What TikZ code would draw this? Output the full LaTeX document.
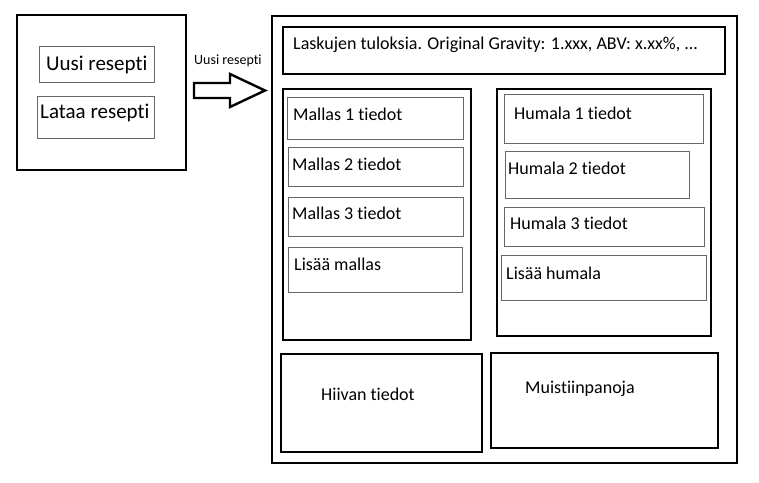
\documentclass[tikz,border=0pt]{standalone}
\usepackage{fontspec}
\setmainfont{Carlito}[Ligatures=NoCommon, RawFeature=-liga]
\begin{document}
\begin{tikzpicture}[x=1pt, y=-1pt,
    outer/.style={draw=black, line width=2.6},
    group/.style={draw=black, line width=1.6},
    item/.style={draw=black!60, line width=1},
    txt/.style={anchor=west, inner sep=0, font=\fontsize{18}{21}\selectfont}]
    \useasboundingbox (0,0) rectangle (759,482);

    % start window
    \draw[outer] (17,15) rectangle (186,170);
    \draw[item] (39,46) rectangle (154,82);
    \draw[item] (37,96) rectangle (154,138);
    \node[txt, font=\fontsize{21}{24}\selectfont] (uusi) at (46,65) {Uusi resepti};
    \node[txt, font=\fontsize{21}{24}\selectfont] (lataa) at (40,113) {Lataa resepti};

    % arrow
    \draw[line width=2.4] (194,83) -- (230,83) -- (230,74) -- (265,90.5)
        -- (230,107) -- (230,98) -- (194,98) -- cycle;
    \node[txt, font=\fontsize{14}{16}\selectfont] (uusilabel) at (194,61) {Uusi resepti};

    % recipe window
    \draw[outer] (272,16) rectangle (737,463);
    \draw[group] (283,27) rectangle (725,74);
    \node[txt] (laskut) at (293,45) {Laskujen tuloksia. Original Gravity: 1.xxx, ABV: x.xx\%, ...};

    % malts
    \draw[group] (283,89) rectangle (471,340);
    \draw[item] (287,97) rectangle (463,139);
    \draw[item] (288,147) rectangle (463,186);
    \draw[item] (288,197) rectangle (463,236);
    \draw[item] (288,247) rectangle (462,292);
    \node[txt] (mallas1) at (293,114) {Mallas 1 tiedot};
    \node[txt] (mallas2) at (292,164) {Mallas 2 tiedot};
    \node[txt] (mallas3) at (292,213) {Mallas 3 tiedot};
    \node[txt] (lisaamallas) at (294,264) {Lisää mallas};

    % hops
    \draw[group] (497,89) rectangle (711,336);
    \draw[item] (504,94) rectangle (703,143);
    \draw[item] (505,151) rectangle (689,198);
    \draw[item] (504,207) rectangle (704,246);
    \draw[item] (501,255) rectangle (706,300);
    \node[txt] (humala1) at (514,113) {Humala 1 tiedot};
    \node[txt] (humala2) at (508,168) {Humala 2 tiedot};
    \node[txt] (humala3) at (510,223) {Humala 3 tiedot};
    \node[txt] (lisaahumala) at (506,273) {Lisää humala};

    % yeast and notes
    \draw[group] (281,354) rectangle (482,452);
    \draw[group] (491,353) rectangle (718,448);
    \node[txt] (hiiva) at (321,394) {Hiivan tiedot};
    \node[txt] (muistiinpanot) at (525,389) {Muistiinpanoja};
\end{tikzpicture}
\end{document}
